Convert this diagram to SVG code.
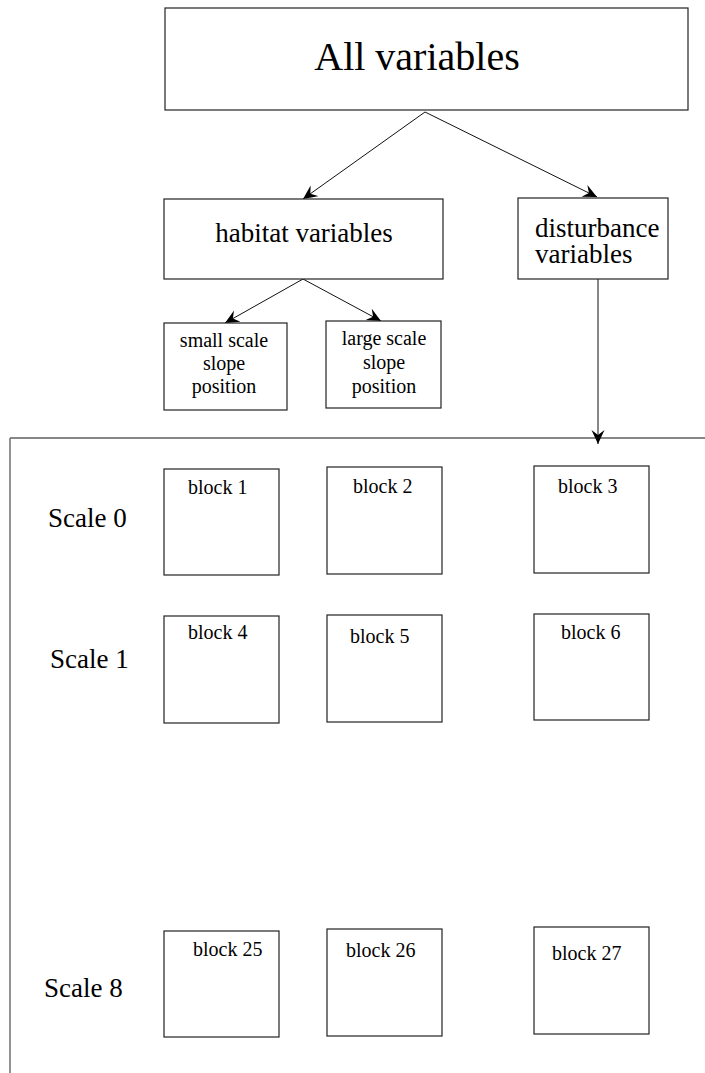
<svg xmlns="http://www.w3.org/2000/svg" width="705" height="1073" viewBox="0 0 705 1073">
<style>
.box{fill:#fff;stroke:#222;stroke-width:1.2}
text{font-family:'Liberation Serif','Times New Roman',serif;fill:#000}
.c{text-anchor:middle}
.ln{stroke:#111;stroke-width:1;fill:none}
</style>
<defs>
<marker id="ah" viewBox="-14 -7 16 14" refX="0" refY="0" markerWidth="16" markerHeight="14" markerUnits="userSpaceOnUse" orient="auto">
<path d="M0,0 L-14,-6.5 L-9,0 L-14,6.5 z" fill="#000"/>
</marker>
</defs>
<rect width="705" height="1073" fill="#fff"/>
<g id="connectors">
<line class="ln" x1="425" y1="112" x2="303" y2="199" marker-end="url(#ah)"/>
<line class="ln" x1="425" y1="112" x2="597" y2="197" marker-end="url(#ah)"/>
<line class="ln" x1="303" y1="279" x2="225" y2="323" marker-end="url(#ah)"/>
<line class="ln" x1="303" y1="279" x2="381" y2="321" marker-end="url(#ah)"/>
<line class="ln" x1="598" y1="279" x2="598" y2="444" stroke="#555" marker-end="url(#ah)"/>
</g>
<g id="frame">
<line x1="10" y1="438" x2="705" y2="438" stroke="#111" stroke-width="1.2"/>
<line x1="10" y1="438" x2="10" y2="1073" stroke="#777" stroke-width="1.6"/>
</g>
<g id="all-variables">
<rect class="box" x="165" y="8" width="523" height="102"/>
<text class="c" x="417" y="70" font-size="40">All variables</text>
</g>
<g id="habitat-variables">
<rect class="box" x="164" y="199" width="279" height="80"/>
<text class="c" x="304" y="242" font-size="27">habitat variables</text>
</g>
<g id="disturbance-variables">
<rect class="box" x="518" y="198" width="150" height="81"/>
<text x="535" y="237" font-size="27">disturbance</text>
<text x="535" y="263" font-size="27">variables</text>
</g>
<g id="small-scale">
<rect class="box" x="164" y="323" width="123" height="87"/>
<text class="c" x="224" y="347" font-size="20">small scale</text>
<text class="c" x="224" y="370" font-size="20">slope</text>
<text class="c" x="224" y="393" font-size="20">position</text>
</g>
<g id="large-scale">
<rect class="box" x="326" y="321" width="115" height="87"/>
<text class="c" x="384" y="345" font-size="20">large scale</text>
<text class="c" x="384" y="369" font-size="20">slope</text>
<text class="c" x="384" y="393" font-size="20">position</text>
</g>
<g id="scale-labels" font-size="27">
<text x="48" y="527">Scale 0</text>
<text x="50" y="668">Scale 1</text>
<text x="44" y="997">Scale 8</text>
</g>
<g font-size="20">
<g id="block1"><rect class="box" x="164" y="469" width="115" height="106"/><text x="188" y="494">block 1</text></g>
<g id="block2"><rect class="box" x="327" y="467" width="115" height="107"/><text x="353" y="493">block 2</text></g>
<g id="block3"><rect class="box" x="534" y="466" width="115" height="107"/><text x="558" y="493">block 3</text></g>
<g id="block4"><rect class="box" x="164" y="616" width="115" height="107"/><text x="188" y="639">block 4</text></g>
<g id="block5"><rect class="box" x="327" y="615" width="115" height="107"/><text x="350" y="643">block 5</text></g>
<g id="block6"><rect class="box" x="534" y="614" width="115" height="106"/><text x="561" y="639">block 6</text></g>
<g id="block25"><rect class="box" x="164" y="931" width="115" height="106"/><text x="193" y="956">block 25</text></g>
<g id="block26"><rect class="box" x="327" y="929" width="115" height="107"/><text x="346" y="957">block 26</text></g>
<g id="block27"><rect class="box" x="534" y="927" width="115" height="107"/><text x="552" y="960">block 27</text></g>
</g>
</svg>
